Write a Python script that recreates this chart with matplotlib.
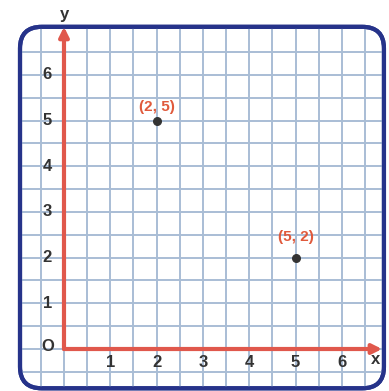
import matplotlib
matplotlib.use("Agg")
import matplotlib.pyplot as plt
import numpy as np
from matplotlib.patches import FancyBboxPatch

# tick values and labelled points
X_TICKS = [1, 2, 3, 4, 5, 6]
Y_TICKS = [1, 2, 3, 4, 5, 6]
POINTS_X = [2, 5]
POINTS_Y = [5, 2]
POINT_LABELS = ["(2, 5)", "(5, 2)"]
LABEL_OFFSETS = [14, 21]  # label height above point, in pixels

GRID_STEP = 0.5
GRID_MIN, GRID_MAX = -0.5, 6.5

RED = "#e0584c"
LABEL_RED = "#e05a3c"
NAVY = "#26338a"
GRID = "#a9bdd5"
TEXT = "#333333"

plt.rcParams["font.family"] = ["Liberation Sans Narrow", "Liberation Sans", "DejaVu Sans"]

fig = plt.figure(figsize=(3.89, 3.91), dpi=100)
ax = fig.add_axes([0, 0, 1, 1])
ax.set_xlim(-1.382, 7.019)
ax.set_ylim(-0.919, 7.637)
ax.axis("off")

# rounded frame
frame = FancyBboxPatch((-0.95 + 0.47, -0.86 + 0.47), 7.86 - 0.94, 7.91 - 0.94,
                       boxstyle="round,pad=0.47", facecolor="white",
                       edgecolor=NAVY, linewidth=3.0, zorder=1)
ax.add_patch(frame)

# graph paper grid
ticks = np.arange(GRID_MIN, GRID_MAX + 0.01, GRID_STEP)
for t in ticks:
    v = ax.plot([t, t], [-1.0, 7.2], color=GRID, lw=1.4, zorder=2)[0]
    h = ax.plot([-1.1, 7.0], [t, t], color=GRID, lw=1.4, zorder=2)[0]
    v.set_clip_path(frame)
    h.set_clip_path(frame)

# redraw frame edge on top of grid
edge = FancyBboxPatch((-0.95 + 0.47, -0.86 + 0.47), 7.86 - 0.94, 7.91 - 0.94,
                      boxstyle="round,pad=0.47", facecolor="none",
                      edgecolor=NAVY, linewidth=3.0, zorder=3)
ax.add_patch(edge)

# axes with arrows
arrow = dict(arrowstyle="-|>", color=RED, lw=3, mutation_scale=14,
             shrinkA=0, shrinkB=0)
ax.annotate("", xy=(6.87, 0), xytext=(0, 0), arrowprops=arrow, zorder=5)
ax.annotate("", xy=(0, 7.05), xytext=(0, 0), arrowprops=arrow, zorder=5)

# tick labels
for x in X_TICKS:
    ax.text(x, -0.29, str(x), ha="center", va="center", fontsize=12,
            fontweight="bold", color=TEXT, zorder=6)
for y in Y_TICKS:
    ax.text(-0.36, y, str(y), ha="center", va="center", fontsize=12,
            fontweight="bold", color=TEXT, zorder=6)
ax.text(-0.34, 0.06, "O", ha="center", va="center", fontsize=12,
        fontweight="bold", color=TEXT, zorder=6)
ax.text(0, 7.32, "y", ha="center", va="center", fontsize=12,
        fontweight="bold", color=TEXT, zorder=6)
ax.text(6.72, -0.22, "x", ha="center", va="center", fontsize=12,
        fontweight="bold", color=TEXT, zorder=6)

# points and their labels
ax.scatter(POINTS_X, POINTS_Y, s=30, color="#333333", zorder=6)
for px, py, lab, off in zip(POINTS_X, POINTS_Y, POINT_LABELS, LABEL_OFFSETS):
    ax.annotate(lab, (px, py), xytext=(0, off * 0.72), textcoords="offset points",
                ha="center", va="center", fontsize=11, fontweight="bold",
                color=LABEL_RED, zorder=6)

fig.savefig("out.png", dpi=100)
